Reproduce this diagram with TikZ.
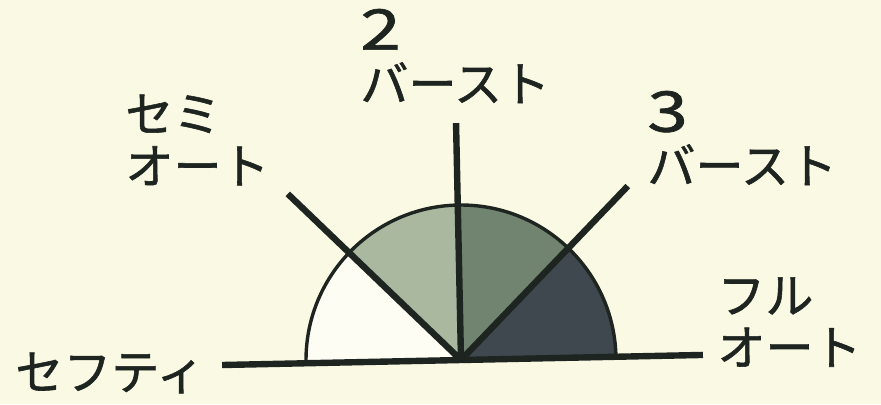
\documentclass[tikz,border=0pt]{standalone}
\usepackage{fontspec}
\setmainfont{Noto Sans CJK JP}[FakeBold=1.2]
\usetikzlibrary{positioning}

\definecolor{paper}{HTML}{FAFAE4}
\definecolor{fanwhite}{HTML}{FDFDF4}
\definecolor{fanlight}{HTML}{A9B89F}
\definecolor{fanmid}{HTML}{70846F}
\definecolor{fandark}{HTML}{40484F}
\definecolor{ink}{HTML}{1E2420}

\newcommand{\modenum}[1]{\scalebox{1.3}[1]{\fontsize{28}{26}\selectfont #1}}

\begin{document}
\begin{tikzpicture}[
    x=0.5pt, y=0.5pt,
    every node/.style={font=\fontsize{24}{26}\selectfont, inner sep=0pt, text=ink},
    mode/.style={align=left, anchor=west},
    lever/.style={draw=ink, line width=3.2pt},
    rim/.style={draw=ink, line width=1.7pt},
  ]

  % ---- Paper ----
  \fill[paper] (0,0) rectangle (881,404);
  \useasboundingbox (0,0) rectangle (881,404);

  % ---- Selector fan ----
  \begin{scope}[shift={(461,44)}, rotate=1.2]
    \coordinate (pivot) at (0,0);
    \fill[fanwhite] (0,0) -- (135:155) arc (135:180:155) -- cycle;
    \fill[fanlight] (0,0) -- (90:155) arc (90:135:155) -- cycle;
    \fill[fanmid] (0,0) -- (45:155) arc (45:90:155) -- cycle;
    \fill[fandark] (0,0) -- (0:155) arc (0:45:155) -- cycle;
    \draw[rim] (180:155) arc (180:0:155);
    \coordinate (safetyEnd) at (180:239);
    \coordinate (semiEnd) at (135:240);
    \coordinate (burst2End) at (90:237);
    \coordinate (burst3End) at (45:241);
    \coordinate (fullEnd) at (0:242);
  \end{scope}

  % ---- Labels ----
  \node[mode] (semi) at (125,264) {セミ\\オート};
  \node[mode] (burst2) at (360,348) {\modenum{2}\\バースト};
  \node[mode] (burst3) at (647,266) {\modenum{3}\\バースト};
  \node[mode] (full) at (717,82) {フル\\オート};
  \node[anchor=west] (safety) at (15,31) {セフティ};

  % ---- Levers ----
  \draw[lever] (safetyEnd) -- (fullEnd);
  \draw[lever] (pivot) -- (semiEnd);
  \draw[lever] (pivot) -- (burst2End);
  \draw[lever] (pivot) -- (burst3End);

\end{tikzpicture}
\end{document}
